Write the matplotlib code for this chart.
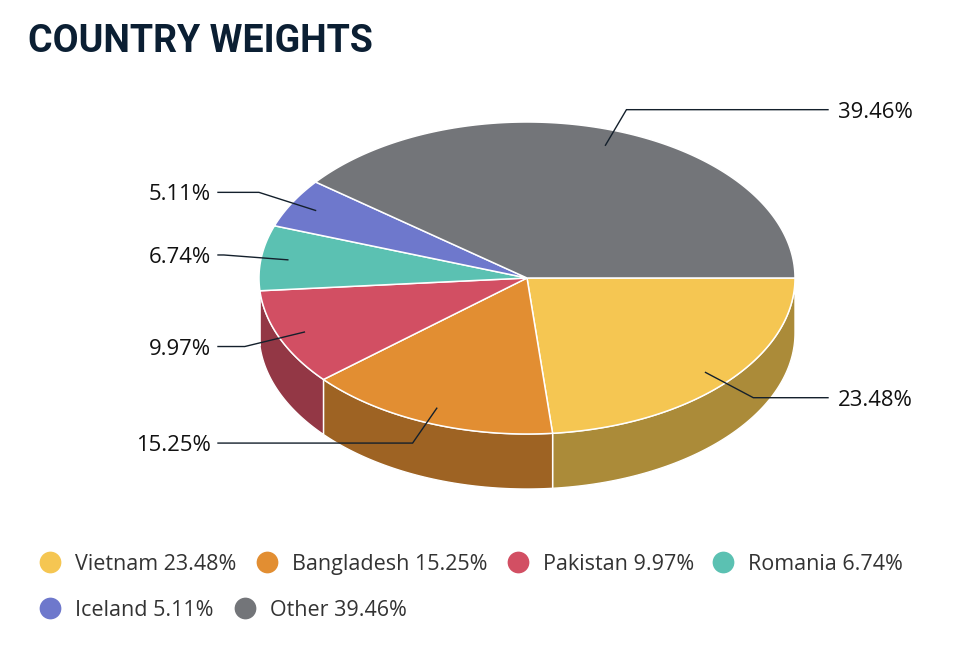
import numpy as np
import matplotlib
matplotlib.use("Agg")
import matplotlib.pyplot as plt
from matplotlib.patches import Polygon
from matplotlib.colors import to_rgb

# ---- data ----
countries = ["Vietnam", "Bangladesh", "Pakistan", "Romania", "Iceland", "Other"]
weights = [23.48, 15.25, 9.97, 6.74, 5.11, 39.46]
colors = ["#F5C652", "#E28E32", "#D24F63", "#5BC1B2", "#6E78CC", "#737579"]
title = "COUNTRY WEIGHTS"

# ---- layout (pixels) ----
W, H = 972, 666
cx, cy = 527, 278
rx, ry = 268, 156
depth = 55
label_dist = 22
conn_start = 0.9
legend_rows_y = [562, 608]
legend_items_xy = [(50, 0), (267, 0), (518, 0), (723, 0), (50, 1), (245, 1)]

fig = plt.figure(figsize=(W / 100, H / 100), dpi=100)
ax = fig.add_axes([0, 0, 1, 1])
ax.set_xlim(0, W)
ax.set_ylim(H, 0)
ax.axis("off")


def pt(theta, f=1.0, dz=0.0):
    return (cx + rx * f * np.cos(theta), cy + ry * f * np.sin(theta) + dz)


def darker(c, k=0.7):
    r, g, b = to_rgb(c)
    return (r * k, g * k, b * k)


total = sum(weights)
fracs = np.array(weights) / total
ends = np.cumsum(fracs) * 2 * np.pi
starts = ends - fracs * 2 * np.pi

# side walls (front half: 0..pi)
for s, e, c in zip(starts, ends, colors):
    a, b = max(s, 0.0), min(e, np.pi)
    if b <= a:
        continue
    th = np.linspace(a, b, 100)
    top = [pt(t) for t in th]
    bot = [pt(t, dz=depth) for t in th[::-1]]
    ax.add_patch(Polygon(top + bot, closed=True, facecolor=darker(c),
                         edgecolor="white", linewidth=1.0, joinstyle="round"))

# top faces
for s, e, c in zip(starts, ends, colors):
    th = np.linspace(s, e, 200)
    verts = [(cx, cy)] + [pt(t) for t in th]
    ax.add_patch(Polygon(verts, closed=True, facecolor=c, edgecolor="white",
                         linewidth=1.1, joinstyle="round"))

# data labels with connectors
label_font = dict(family=["Open Sans", "DejaVu Sans"], fontsize=15.9, color="#111111")
for s, e, w in zip(starts, ends, weights):
    m = (s + e) / 2
    x0, y0 = pt(m, conn_start)
    ly = cy + (ry + label_dist) * np.sin(m)
    dx, dy = np.cos(m) * rx, np.sin(m) * ry
    t = (ly - y0) / dy if abs(dy) > 1e-6 else 0
    bx = x0 + dx * t
    right = np.cos(m) > 0
    ex = 828 if right else 218
    ax.plot([x0, bx, ex], [y0, ly, ly], color="#14202c", linewidth=1.0,
            solid_joinstyle="miter")
    ax.text(ex + 10 if right else ex - 7, ly, f"{w:.2f}%", ha="left" if right else "right",
            va="center_baseline", **label_font)

# title
ax.text(28, 52, title, ha="left", va="baseline", fontsize=27, fontweight="bold",
        family=["Roboto", "DejaVu Sans"], color="#0B1F33")

# legend
for (lx, row), name, w, c in zip(legend_items_xy, countries, weights, colors):
    y = legend_rows_y[row]
    ax.scatter([lx], [y], s=245, color=c, marker="o", linewidths=0)
    ax.text(lx + 25, y, f"{name} {w:.2f}%", ha="left", va="center_baseline",
            family=["Open Sans", "DejaVu Sans"], fontsize=15.5, color="#333333")

fig.savefig("out.png", dpi=100, facecolor="white")
